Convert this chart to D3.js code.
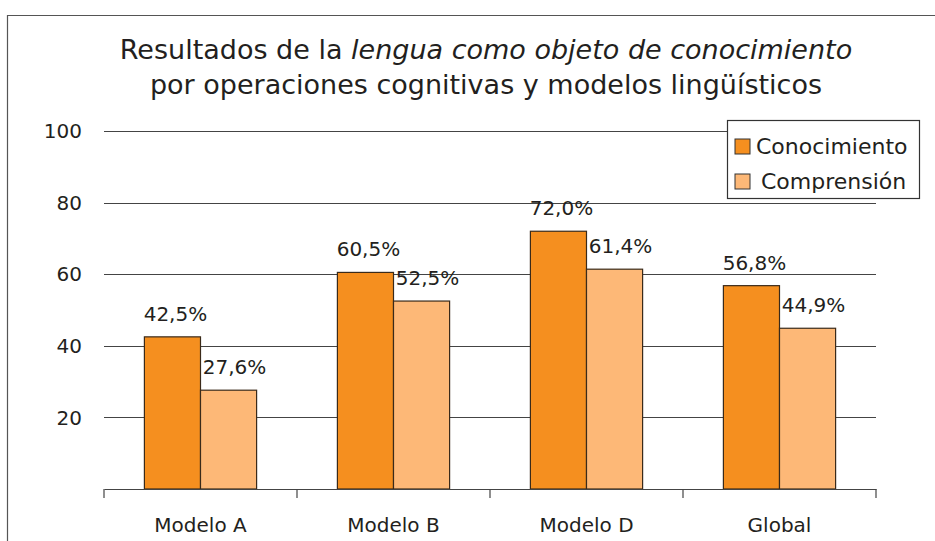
<!DOCTYPE html>
<html>
<head>
<meta charset="utf-8">
<script src="https://cdn.jsdelivr.net/npm/d3@7"></script>
<style>
  body { margin: 0; background: #fff; }
  text { font-family: "DejaVu Sans", sans-serif; fill: #231f20; }
</style>
</head>
<body>
<script>
var categories = ["Modelo A", "Modelo B", "Modelo D", "Global"];
var seriesNames = ["Conocimiento", "Comprensión"];
var conocimiento = [42.5, 60.5, 72.0, 56.8];
var comprension = [27.6, 52.5, 61.4, 44.9];
var yTicks = [20, 40, 60, 80, 100];

function init() {
    var w = 935;
    var h = 541;
    var colors = ["#f58f1f", "#fdb877"];
    var values = [conocimiento, comprension];

    var svg = d3.select("body")
        .append("svg")
        .attr("width", w)
        .attr("height", h);

    //outer frame
    svg.append("path")
        .attr("d", "M7.5,541V15.5H935")
        .attr("fill", "none")
        .attr("stroke", "#555")
        .attr("stroke-width", 1.2);

    //title
    var t1 = svg.append("text")
        .attr("x", 486)
        .attr("y", 59)
        .attr("text-anchor", "middle")
        .attr("font-size", 27);
    t1.append("tspan").text("Resultados de la ");
    t1.append("tspan").attr("font-style", "italic").text("lengua como objeto de conocimiento");
    svg.append("text")
        .attr("x", 486)
        .attr("y", 94)
        .attr("text-anchor", "middle")
        .attr("font-size", 27)
        .text("por operaciones cognitivas y modelos lingüísticos");

    var x = d3.scaleBand()
        .domain(categories)
        .range([104, 876]);
    var x1 = d3.scaleBand()
        .domain(seriesNames)
        .range([0, x.bandwidth()])
        .paddingInner(0)
        .paddingOuter(0.72);
    var y = d3.scaleLinear()
        .domain([0, 100])
        .range([489, 131]);

    //gridlines
    svg.append("g")
        .selectAll("line")
        .data(yTicks)
        .enter()
        .append("line")
        .attr("x1", 104)
        .attr("x2", 876)
        .attr("y1", d => Math.round(y(d)) + 0.5)
        .attr("y2", d => Math.round(y(d)) + 0.5)
        .attr("stroke", "#444")
        .attr("stroke-width", 1);

    //y tick labels
    svg.append("g")
        .selectAll("text")
        .data(yTicks)
        .enter()
        .append("text")
        .attr("x", 82)
        .attr("y", d => y(d))
        .attr("dy", "0.36em")
        .attr("text-anchor", "end")
        .attr("font-size", 20)
        .text(d => d);

    //bars
    var groups = svg.selectAll("g.grp")
        .data(categories)
        .enter()
        .append("g")
        .attr("class", "grp")
        .attr("transform", d => "translate(" + x(d) + ",0)");

    seriesNames.forEach(function (s, si) {
        groups.append("rect")
            .attr("x", x1(s))
            .attr("width", x1.bandwidth())
            .attr("y", (d, i) => y(values[si][i]))
            .attr("height", (d, i) => y(0) - y(values[si][i]))
            .attr("fill", colors[si])
            .attr("stroke", "#3a2a1a")
            .attr("stroke-width", 1.2);
        groups.append("text")
            .attr("x", x1(s) + x1.bandwidth() / 2 + 3 + si * 3)
            .attr("y", (d, i) => y(values[si][i]) - 16)
            .attr("text-anchor", "middle")
            .attr("font-size", 20)
            .text((d, i) => values[si][i].toFixed(1).replace(".", ",") + "%");
    });

    //x axis
    var xAxis = d3.axisBottom(x).tickSize(0).tickSizeOuter(0);
    var ax = svg.append("g")
        .attr("transform", "translate(0,489)")
        .call(xAxis);
    ax.select(".domain").attr("stroke", "#444").attr("stroke-width", 1.2);
    ax.selectAll(".tick text")
        .attr("dy", 0)
        .attr("y", 43)
        .attr("font-size", 20)
        .attr("font-family", "'DejaVu Sans', sans-serif")
        .attr("fill", "#231f20");
    svg.append("g")
        .selectAll("line")
        .data(categories.concat([null]))
        .enter()
        .append("line")
        .attr("x1", d => d === null ? 876 : x(d))
        .attr("x2", d => d === null ? 876 : x(d))
        .attr("y1", 489)
        .attr("y2", 498)
        .attr("stroke", "#444")
        .attr("stroke-width", 1.2);

    //legend
    var lg = svg.append("g");
    lg.append("rect")
        .attr("x", 727.5)
        .attr("y", 120.5)
        .attr("width", 192)
        .attr("height", 78)
        .attr("fill", "#fff")
        .attr("stroke", "#333")
        .attr("stroke-width", 1.2);
    seriesNames.forEach(function (s, i) {
        lg.append("rect")
            .attr("x", 735)
            .attr("y", 139 + i * 35)
            .attr("width", 15)
            .attr("height", 15)
            .attr("fill", colors[i])
            .attr("stroke", "#333")
            .attr("stroke-width", 1);
        lg.append("text")
            .attr("x", i === 0 ? 756 : 761)
            .attr("y", 146.5 + i * 35)
            .attr("dy", "0.36em")
            .attr("font-size", 22)
            .text(s);
    });
}
window.onload = init;
</script>
</body>
</html>
